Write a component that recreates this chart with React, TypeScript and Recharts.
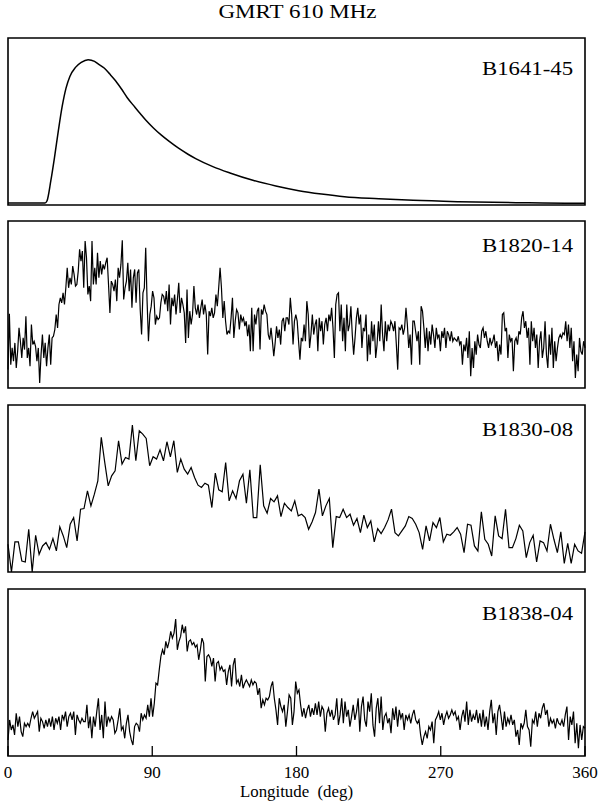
import { LineChart, Line, XAxis, YAxis, ReferenceArea } from "recharts"

const SERIF = "'Liberation Serif', 'Times New Roman', serif"

// B1641-45: smooth profile, sampled where the shape changes (longitude in deg, flux in arbitrary units 0-500)
const b1641Lon = [
  0, 23.1, 24.3, 26.7, 29.0, 31.4, 33.8, 36.2, 38.6, 42.1, 45.7, 50.0, 54.0, 56.4, 60.0, 63.5, 67.1, 70.7, 74.3,
  79.0, 82.6, 86.2, 90.9, 95.7, 100.4, 106.4, 112.3, 117.1, 127.8, 138.5, 152.8, 167.1, 181.4, 195.6, 209.9,
  231.3, 252.8, 281.3, 317, 352.7, 360,
]
const b1641Flux = [
  6, 6, 12, 72, 142, 222, 295, 350, 385, 412, 427, 435, 430, 422, 410, 392, 372, 348, 322, 294, 273, 253, 230, 209,
  191, 170, 152, 139, 115, 96, 74, 57, 43, 33, 25, 19, 14, 10, 7, 5, 5,
]

// noisy profiles, equally spaced bins over 0-360 deg
const b1820Flux = [
  55, 222, 70, 120, 80, 135, 60, 110, 180, 140, 90, 150, 115, 215, 90, 120, 65, 190, 130, 140, 125, 80, 120, 15, 100,
  160, 90, 135, 65, 120, 160, 70, 150, 155, 175, 220, 180, 250, 270, 255, 285, 250, 300, 360, 300, 330, 310, 365,
  340, 305, 310, 350, 415, 380, 410, 300, 440, 390, 280, 305, 260, 440, 310, 360, 310, 405, 330, 380, 340, 370, 355,
  375, 390, 310, 225, 320, 310, 290, 325, 260, 360, 330, 370, 442, 265, 300, 320, 375, 290, 355, 240, 330, 355, 255,
  345, 355, 235, 160, 285, 300, 420, 260, 140, 220, 245, 290, 270, 190, 215, 205, 210, 255, 280, 275, 250, 290, 230,
  310, 190, 270, 245, 280, 220, 265, 315, 225, 270, 250, 225, 135, 295, 150, 230, 190, 220, 305, 240, 220, 250, 210,
  240, 265, 220, 250, 220, 100, 230, 215, 240, 210, 225, 280, 245, 300, 360, 300, 210, 260, 200, 160, 170, 165, 210,
  270, 150, 200, 235, 225, 175, 220, 200, 210, 185, 200, 155, 190, 110, 240, 110, 220, 190, 230, 240, 115, 235, 220,
  250, 230, 220, 160, 145, 180, 140, 95, 135, 185, 150, 175, 130, 200, 210, 170, 210,
  210, 190, 270, 220, 130, 200, 220, 200, 140, 85, 150, 140, 190, 140, 260, 220, 120, 160, 220, 160, 190, 205, 110,
  210, 170, 200, 130, 190, 210, 170, 220, 200, 240, 180, 90, 250, 280, 285, 170, 250, 140, 210, 110, 250, 170, 190,
  245, 160, 100, 150, 210, 240, 190, 220, 120, 180, 170, 220, 80, 160, 100, 200, 140, 190, 90, 130, 200, 140, 250,
  160, 110, 200, 140, 190, 170, 200, 190, 170, 200, 130, 55, 180, 175, 190, 160, 180, 240, 190, 120, 160, 70, 200,
  200, 170, 140, 170, 70, 245, 230, 180, 120, 180, 110, 170, 130, 190, 160, 120, 180, 150, 160, 110, 170, 150, 180,
  120, 170, 160, 140, 170, 140, 150, 145, 140, 155, 130, 140, 70, 130, 110, 150, 90, 170, 35, 120, 60, 140, 100, 160,
  130, 120, 170, 180, 150, 170, 140, 120, 150, 130, 140, 160, 120, 140, 80, 130, 100, 220, 225, 170, 180, 90, 160,
  140, 150, 50, 140, 150, 130, 170, 160, 210, 230, 180, 200, 150, 180, 70, 200, 140, 180, 120, 160, 60, 140, 170, 90,
  120, 200, 100, 60, 160, 100, 180, 60, 140, 80, 120, 150, 160, 150, 165, 160, 200, 140, 190, 120, 180, 80, 140, 30,
  100, 50, 150, 110, 100, 140, 120,
]

const b1830Flux = [
  83, 0, 90, 90, 33, 30, 128, 0, 110, 53, 78, 88, 68, 100, 63, 135, 108, 73, 143, 163, 93, 188, 190, 243, 198, 233,
  273, 403, 328, 258, 288, 303, 393, 323, 343, 338, 440, 333, 423, 413, 400, 318, 345, 338, 366, 333, 390, 345, 393,
  298, 338, 308, 293, 313, 283, 260, 253, 266, 260, 193, 296, 246, 240, 328, 213, 243, 220, 273, 293, 206, 306, 163,
  163, 321, 198, 176, 220, 210, 228, 166, 206, 193, 183, 213,
  168, 173, 163, 128, 150, 178, 248, 168, 198, 220, 73, 166, 163, 188, 163, 173, 140, 160, 118, 170, 133, 153, 90,
  130, 115, 133, 156, 188, 118, 108, 123, 138, 166, 160, 143, 118, 68, 138, 93, 148, 133, 163, 90, 113, 110, 120,
  133, 113, 58, 143, 140, 78, 63, 180, 98, 83, 48, 168, 108, 100, 188, 73, 73, 100, 140, 123, 43, 88, 110, 30, 93,
  88, 63, 143, 98, 58, 120, 26, 86, 26, 83, 63, 56, 120,
]

const b1838Flux = [
  48, 108, 78, 93, 63, 128, 88, 118, 73, 58, 98, 88, 98, 88, 113, 133, 113, 123, 133, 73, 113, 103, 83, 108, 88, 113,
  88, 118, 78, 113, 98, 118, 78, 123, 108, 133, 88, 118, 128, 108, 133, 63, 123, 108, 98, 113, 103, 103, 153, 83,
  118, 53, 118, 88, 133, 173, 78, 123, 53, 163, 88, 118, 103, 118, 108, 68, 78, 108, 143, 78, 88, 53, 98, 123, 73,
  48, 33, 88, 98, 93, 73, 128, 108, 123, 113, 153, 118, 173, 118, 158, 218, 213, 258, 298, 318, 303, 343, 323, 343,
  373, 353, 368, 410, 318, 343, 358, 393, 368, 388, 313, 343, 348, 333, 340, 326, 333, 288, 318, 353, 338, 223, 298,
  303, 293, 268, 293, 223, 278, 283, 258, 268, 253, 258, 213, 253, 273, 208, 273, 293, 218, 228, 208, 243, 203, 218,
  228, 218, 208, 228, 213, 223, 218, 183, 203, 143, 168, 153, 173, 168, 178, 208, 223, 173, 138, 93, 173, 148, 133,
  153, 88, 133, 183, 173, 93, 133, 223, 188, 198, 153, 118,
  143, 113, 138, 153, 118, 143, 123, 158, 123, 163, 118, 148, 138, 73, 128, 143, 118, 138, 108, 123, 173, 93, 123,
  173, 98, 163, 118, 138, 88, 118, 153, 108, 133, 173, 73, 148, 178, 108, 88, 163, 133, 188, 93, 58, 143, 173, 98,
  178, 78, 118, 128, 98, 113, 68, 143, 108, 148, 88, 138, 113, 128, 78, 123, 108, 123, 98, 123, 138, 108, 98, 108,
  63, 33, 58, 73, 53, 88, 78, 103, 38, 108, 118, 133, 108, 128, 93, 118, 133, 113, 123, 138, 123, 133, 108, 118, 78,
  118, 138, 103, 163, 93, 138, 103, 123, 108, 138, 98, 128, 88, 138, 88, 118, 78, 133, 168, 98, 128, 63, 133, 153,
  118, 78, 133, 88, 113, 98, 123, 93, 108, 58, 78, 33, 98, 83, 98, 138, 88, 78, 28, 108, 98, 133, 88, 128, 113, 143,
  158, 123, 138, 88, 113, 98, 108, 83, 113, 98, 93, 108, 88, 123, 148, 48, 118, 93, 133, 38, 98, 23, 93, 48, 88, 83,
]

const lonTicks = [0, 90, 180, 270, 360]

const spread = (vals: number[]) => vals.map((v, i) => ({ lon: (i * 360) / (vals.length - 1), flux: v }))

const panels = [
  { name: "B1641-45", top: 38, nameDy: 37, smooth: true, data: b1641Lon.map((l, i) => ({ lon: l, flux: b1641Flux[i] })) },
  { name: "B1820-14", top: 221, nameDy: 31, smooth: false, data: spread(b1820Flux) },
  { name: "B1830-08", top: 405, nameDy: 31, smooth: false, data: spread(b1830Flux) },
  { name: "B1838-04", top: 589, nameDy: 31, smooth: false, data: spread(b1838Flux) },
]

const LonTick = (props: any) => {
  const { x, y, payload } = props
  return (
    <g>
      <line x1={x} x2={x} y1={y} y2={y - 10} stroke="#000" strokeWidth={1.3} />
      <text x={x} y={y + 22} textAnchor="middle" fontFamily={SERIF} fontSize={17} fill="#000">
        {payload.value}
      </text>
    </g>
  )
}

const AxisTitle = (props: any) => {
  const vb = props.viewBox || { x: 8, y: 167, width: 577 }
  return (
    <text
      x={vb.x + vb.width / 2}
      y={vb.y + 41}
      textAnchor="middle"
      fontFamily={SERIF}
      fontSize={16}
      fill="#000"
      textLength={113}
      lengthAdjust="spacingAndGlyphs"
      style={{ whiteSpace: "pre" }}
    >
      Longitude  (deg)
    </text>
  )
}

function Panel({ p, last }: { p: (typeof panels)[number]; last: boolean }) {
  const nameLabel = (props: any) => {
    const vb = props.viewBox || { x: 8, y: 2, width: 577 }
    return (
      <text x={vb.x + vb.width - 12} y={vb.y + p.nameDy} textAnchor="end" fontFamily={SERIF} fontSize={19} fill="#000" textLength={91} lengthAdjust="spacingAndGlyphs">
        {p.name}
      </text>
    )
  }
  return (
    <div style={{ position: "absolute", left: 0, top: p.top - 2 }}>
      <LineChart width={600} height={last ? 217 : 171} data={p.data} margin={{ top: 2, right: 15, bottom: last ? 0 : 2, left: 8 }}>
        <XAxis
          type="number"
          dataKey="lon"
          domain={[0, 360]}
          ticks={lonTicks}
          interval={0}
          hide={!last}
          height={48}
          axisLine={false}
          tickLine={false}
          tickSize={0}
          tickMargin={0}
          tick={<LonTick />}
          label={<AxisTitle />}
        />
        <YAxis type="number" domain={[0, 500]} hide />
        <ReferenceArea x1={0} x2={360} y1={0} y2={500} fill="none" stroke="#000" strokeWidth={1.6} label={nameLabel} />
        <Line
          type={p.smooth ? "monotone" : "linear"}
          dataKey="flux"
          stroke="#000"
          strokeWidth={p.smooth ? 1.5 : 1.2}
          dot={false}
          activeDot={false}
          isAnimationActive={false}
        />
      </LineChart>
    </div>
  )
}

export default function App() {
  return (
    <div style={{ position: "absolute", left: 0, top: 0, width: 600, height: 804, background: "#fff" }}>
      <svg width={600} height={30} style={{ position: "absolute", left: 0, top: 0 }}>
        <text x={297.5} y={18} textAnchor="middle" fontFamily={SERIF} fontSize={19} fill="#000" textLength={158} lengthAdjust="spacingAndGlyphs">
          GMRT 610 MHz
        </text>
      </svg>
      {panels.map((p, i) => (
        <Panel key={p.name} p={p} last={i === panels.length - 1} />
      ))}
    </div>
  )
}
